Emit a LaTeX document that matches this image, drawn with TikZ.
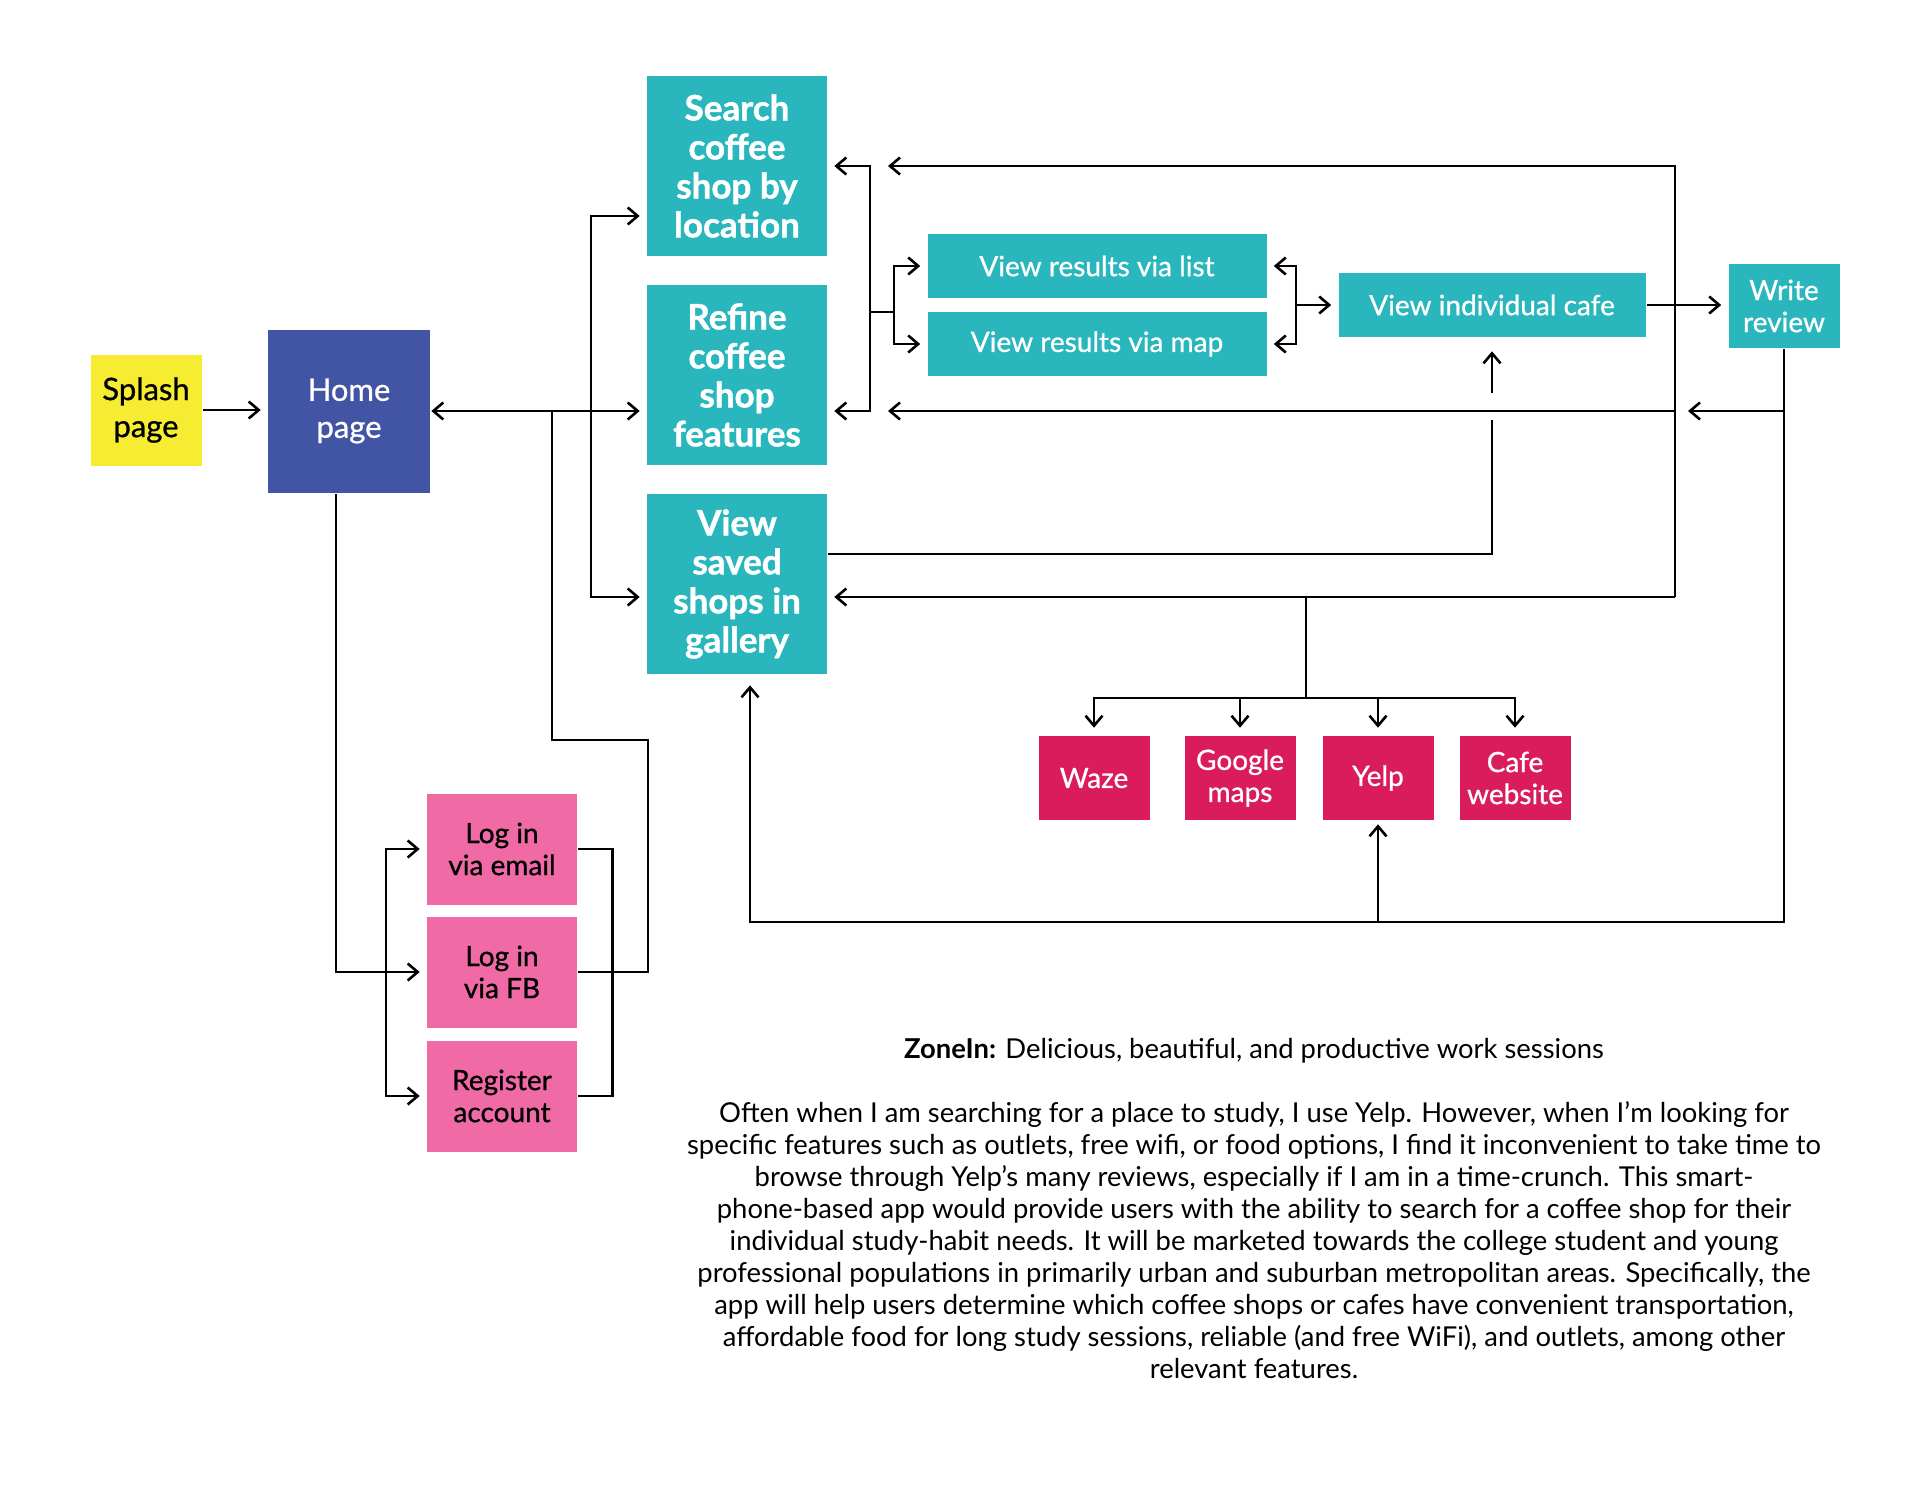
\documentclass[tikz,border=0pt]{standalone}
\usepackage{fontspec}
\setmainfont{Lato}
\newfontfamily\mediumfont{Lato}[FakeBold=0.8]
\newfontfamily\heavyfont{Lato}[BoldFeatures={FakeBold=1.2}]
\usetikzlibrary{arrows.meta}
\definecolor{splashyellow}{HTML}{F6EC32}
\definecolor{homeblue}{HTML}{4254A4}
\definecolor{screenteal}{HTML}{29B6BD}
\definecolor{loginpink}{HTML}{F06BA6}
\definecolor{appred}{HTML}{DA1C5C}
\begin{document}
\begin{tikzpicture}[x=1pt,y=-1pt,line width=2.6pt,
 >={Straight Barb[length=10pt,width=17pt]},
 tip/.style={->,shorten >=6pt},
 box/.style={inner sep=0pt,align=center,font=\fontsize{28}{32}\selectfont\mediumfont},
 yellowbox/.style={box,fill=splashyellow,text=black,font=\fontsize{31}{37}\selectfont\mediumfont},
 bluebox/.style={box,fill=homeblue,text=white,font=\fontsize{31}{37}\selectfont\mediumfont},
 tealbox/.style={box,fill=screenteal,text=white,minimum height=64pt},
 bigbox/.style={box,fill=screenteal,text=white,minimum width=180pt,minimum height=180pt,font=\fontsize{35}{39}\selectfont\heavyfont\bfseries},
 pinkbox/.style={box,fill=loginpink,text=black,minimum width=150pt,minimum height=111pt},
 redbox/.style={box,fill=appred,text=white,minimum width=111pt,minimum height=84pt},
 para/.style={font=\fontsize{27.4}{32}\selectfont,inner sep=0pt}]
\fill[white] (0,0) rectangle (1920,1484);
\useasboundingbox (0,0) rectangle (1920,1484);

\node[yellowbox,minimum width=111pt,minimum height=111pt] (splash) at (146,410) {Splash\\page};
\node[bluebox,minimum width=162pt,minimum height=163pt] (home) at (349,411) {Home\\page};
\foreach \n/\y/\t in {search/166/{Search\\coffee\\shop by\\location},refine/375/{Refine\\coffee\\shop\\features},saved/584/{View\\saved\\shops in\\gallery}}
 \node[bigbox] (\n) at (737,\y) {\t};
\node[tealbox,minimum width=339pt] (list) at (1097,266) {View results via list};
\node[tealbox,minimum width=339pt] (map) at (1097,344) {View results via map};
\node[tealbox,minimum width=307pt] (cafe) at (1492,305) {View individual cafe};
\node[tealbox,minimum width=111pt,minimum height=84pt] (write) at (1784,306) {Write\\review};
\foreach \n/\y/\t in {email/849/{Log in\\via email},fb/972/{Log in\\via FB},register/1096/{Register\\account}}
 \node[pinkbox] (\n) at (502,\y) {\t};
\foreach \n/\x/\t in {waze/1094/Waze,google/1240/{Google\\maps},yelp/1378/Yelp,web/1515/{Cafe\\website}}
 \node[redbox] (\n) at (\x,778) {\t};

\draw[tip] (splash.east) -- (splash.east -| home.west);
\draw[<->,shorten >=6pt] (home.east) -- (home.east -| refine.west);
\coordinate (s1) at (591,216);
\coordinate (s2) at (591,597);
\draw[<->,shorten <=6pt,shorten >=6pt] (s1 -| search.west) -- (s1) -- (s2) -- (s2 -| saved.west);

\coordinate (h1) at ([xshift=-13pt]home.south);
\draw[tip] (h1) |- (fb.west);
\coordinate (lb) at (386,972);
\draw[tip] (lb) |- (email.west);
\draw[tip] (lb) |- (register.west);
\draw (email.east) -| ([xshift=34pt]register.east) -- (register.east);
\coordinate (hl) at (552,411);
\draw (fb.east) -| (648,740) -| (hl);

\coordinate (b1) at (870,312);
\coordinate (b2) at (894,312);
\draw[tip] (b1) |- (search.east);
\draw[tip] (b1) |- (refine.east |- hl);
\draw (b1) -- (b2);
\draw[tip] (b2) |- (list.west);
\draw[tip] (b2) |- (map.west);
\coordinate (b3) at (1296,305);
\draw[tip] (b3) |- (list.east);
\draw[tip] (b3) |- (map.east);
\draw[tip] (b3) -- (cafe.west);
\draw[tip] (cafe.east) -- (cafe.east -| write.west);

\coordinate (r1) at (1675,166);
\coordinate (r2) at (1675,411);
\coordinate (r3) at (1675,597);
\draw[->,shorten >=18pt] (r3) -- (r1) -- (r1 -| b1);
\draw[->,shorten >=18pt] (r2) -- (r2 -| b1);
\draw[tip] (r3) -- (r3 -| saved.east);
\draw[->,shorten >=13pt] (write.south |- r2) -- (r2);
\coordinate (g1) at ([xshift=13pt]saved.south);
\draw[->,shorten >=10pt] (write.south) |- (g1 |- 0,922) -- (g1);
\draw[->,shorten >=3pt] (yelp.south |- 0,922) -- (yelp.south);
\draw (saved.east |- 0,554) -| (cafe.south |- 0,420);
\draw[->,shorten >=13pt] (cafe.south |- 0,393) -- (cafe.south);
\coordinate (a0) at (1306,698);
\draw (a0 |- r3) -- (a0);
\foreach \n in {waze,google,yelp,web}
 \draw[->,shorten >=7pt] (a0) -| (\n.north);

\node[para,anchor=base] (title) at (1254,1058) {\textbf{ZoneIn:} Delicious, beautiful, and productive work sessions};
\foreach \i/\t in {0/{Often when I am searching for a place to study, I use Yelp. However, when I'm looking for},
 1/{specific features such as outlets, free wifi, or food options, I find it inconvenient to take time to},
 2/{browse through Yelp's many reviews, especially if I am in a time-crunch. This smart-},
 3/{phone-based app would provide users with the ability to search for a coffee shop for their},
 4/{individual study-habit needs. It will be marketed towards the college student and young},
 5/{professional populations in primarily urban and suburban metropolitan areas. Specifically, the},
 6/{app will help users determine which coffee shops or cafes have convenient transportation,},
 7/{affordable food for long study sessions, reliable (and free WiFi), and outlets, among other},
 8/{relevant features.}}
 \node[para,anchor=base] (line\i) at (1254,{1122+32.05*\i}) {\t};
\end{tikzpicture}
\end{document}
